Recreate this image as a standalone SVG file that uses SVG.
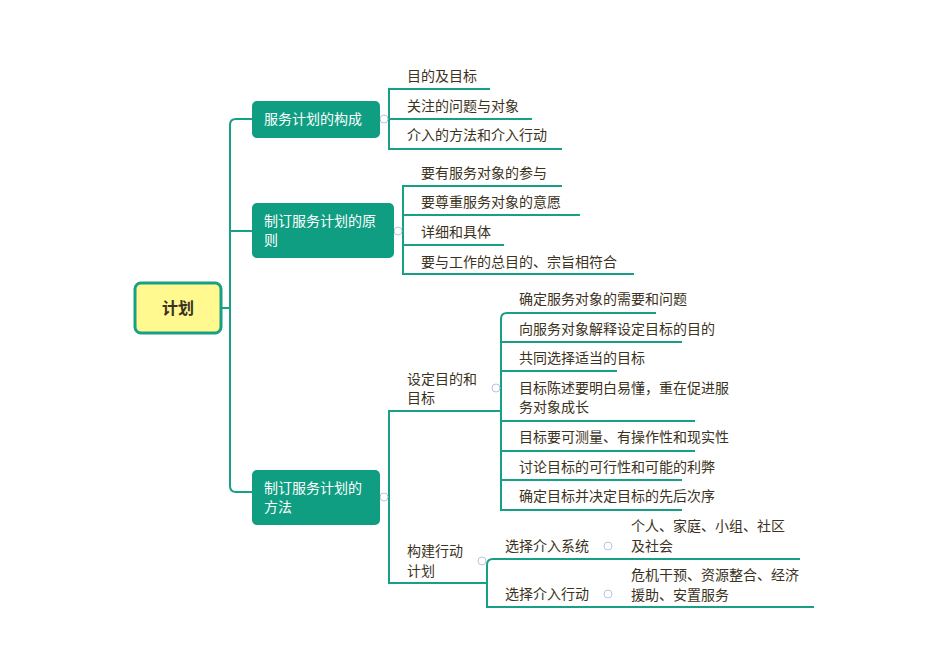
<svg xmlns="http://www.w3.org/2000/svg" width="950" height="672" viewBox="0 0 950 672">
<style>
.ln{fill:none;stroke:#17a086;stroke-width:2}
.t{font-family:"Noto Sans CJK SC",sans-serif;font-size:14px;fill:#3b3222}
.w{font-family:"Noto Sans CJK SC",sans-serif;font-size:14px;fill:#ffffff}
.b{fill:#0f9e82}
.c{fill:#fff;stroke:#b8c4e0;stroke-width:1}
</style>
<rect width="950" height="672" fill="#fff"/>
<g id="connectors">
<path class="ln" d="M222 308H230M252 119H236Q230 119 230 125V486Q230 492 236 492H252M230 231H252"/>
<path class="ln" d="M380 119H389M490 89H389V149H562M389 119H532"/>
<path class="ln" d="M394 231H403M562 186H403V274H634M403 215H580M403 245H504"/>
<path class="ln" d="M380 497H389M501 411H389V583H487M656 313H507Q501 313 501 319V510H682M501 342H682M501 371H617M501 421H695M501 451H695M501 480H682"/>
<path class="ln" d="M800 559H493Q487 559 487 565V607H814"/>
<circle class="c" cx="384" cy="119" r="4"/><circle class="c" cx="398" cy="231" r="4"/><circle class="c" cx="384" cy="497" r="4"/>
<circle class="c" cx="496" cy="388" r="4"/><circle class="c" cx="482" cy="561" r="4"/><circle class="c" cx="608" cy="546" r="4"/><circle class="c" cx="608" cy="594" r="4"/>
</g>
<g id="root"><rect x="135" y="283" width="86" height="50" rx="6" fill="#fff98f" stroke="#17a086" stroke-width="3"/><text x="178" y="314" text-anchor="middle" font-family="Noto Sans CJK SC,sans-serif" font-size="16" font-weight="bold" fill="#3b3222">计划</text></g>
<g id="b1"><rect class="b" x="252" y="101" width="128" height="37" rx="5"/><text class="w" x="264" y="124">服务计划的构成</text></g>
<g id="b2"><rect class="b" x="252" y="203" width="142" height="55" rx="5"/><text class="w" x="264" y="226">制订服务计划的原</text><text class="w" x="264" y="245">则</text></g>
<g id="b3"><rect class="b" x="252" y="470" width="128" height="55" rx="5"/><text class="w" x="264" y="493">制订服务计划的</text><text class="w" x="264" y="512">方法</text></g>
<g id="leaves1" class="t"><text class="t" x="407" y="81">目的及目标</text><text class="t" x="407" y="111">关注的问题与对象</text><text class="t" x="407" y="140">介入的方法和介入行动</text></g>
<g id="leaves2"><text class="t" x="421" y="178">要有服务对象的参与</text><text class="t" x="421" y="207">要尊重服务对象的意愿</text><text class="t" x="421" y="237">详细和具体</text><text class="t" x="421" y="267">要与工作的总目的、宗旨相符合</text></g>
<g id="s1"><text class="t" x="407" y="384">设定目的和</text><text class="t" x="407" y="403">目标</text></g>
<g id="leaves3"><text class="t" x="519" y="304">确定服务对象的需要和问题</text><text class="t" x="519" y="334">向服务对象解释设定目标的目的</text><text class="t" x="519" y="363">共同选择适当的目标</text><text class="t" x="519" y="393">目标陈述要明白易懂，重在促进服</text><text class="t" x="519" y="412">务对象成长</text><text class="t" x="519" y="442">目标要可测量、有操作性和现实性</text><text class="t" x="519" y="472">讨论目标的可行性和可能的利弊</text><text class="t" x="519" y="501">确定目标并决定目标的先后次序</text></g>
<g id="s2"><text class="t" x="407" y="556">构建行动</text><text class="t" x="407" y="576">计划</text></g>
<g id="s21"><text class="t" x="505" y="551">选择介入系统</text><text class="t" x="631" y="531">个人、家庭、小组、社区</text><text class="t" x="631" y="551">及社会</text></g>
<g id="s22"><text class="t" x="505" y="599">选择介入行动</text><text class="t" x="631" y="580">危机干预、资源整合、经济</text><text class="t" x="631" y="600">援助、安置服务</text></g>
</svg>
